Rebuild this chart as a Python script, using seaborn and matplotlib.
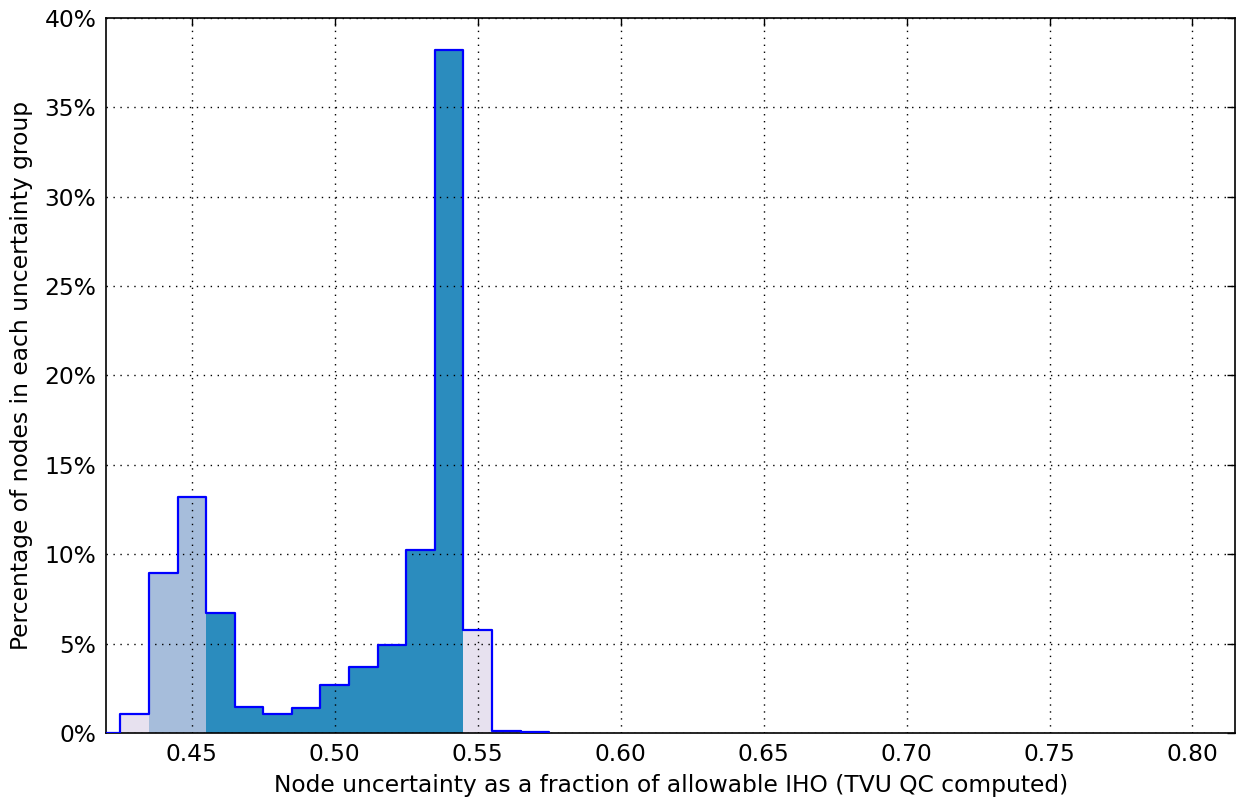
import matplotlib
matplotlib.use("Agg")
import matplotlib.pyplot as plt
import matplotlib.ticker as mticker
import seaborn as sns
import numpy as np
import pandas as pd

# histogram bin centres (fraction of allowable IHO) and percentage of nodes per bin
bin_centers = [0.42, 0.43, 0.44, 0.45, 0.46, 0.47, 0.48, 0.49, 0.50, 0.51,
               0.52, 0.53, 0.54, 0.55, 0.56, 0.57]
pct_nodes = [0.0, 1.05, 8.95, 13.2, 6.7, 1.45, 1.08, 1.4, 2.7, 3.7,
             4.9, 10.25, 38.2, 5.75, 0.13, 0.05]
# which uncertainty group each bin falls in (controls the fill colour)
groups = ['outer', 'outer', 'mid', 'mid', 'core', 'core', 'core', 'core', 'core', 'core',
          'core', 'core', 'core', 'outer', 'outer', 'outer']
group_colors = {'outer': '#e7e1ef', 'mid': '#a6bddb', 'core': '#2b8cbe'}

bin_edges = [round(0.415 + 0.01 * i, 3) for i in range(17)]
x_ticks = [0.45, 0.50, 0.55, 0.60, 0.65, 0.70, 0.75, 0.80]
y_ticks = [0, 5, 10, 15, 20, 25, 30, 35, 40]

df = pd.DataFrame({'center': bin_centers, 'pct': pct_nodes, 'group': groups})

sns.set_theme(style='white')
plt.rcParams['font.family'] = ['DejaVu Sans']
plt.rcParams.update({
    'xtick.direction': 'in', 'ytick.direction': 'in',
    'xtick.top': True, 'ytick.right': True,
    'xtick.major.size': 6, 'ytick.major.size': 6,
    'axes.edgecolor': 'black', 'axes.linewidth': 1.2,
    'axes.axisbelow': False,
    'text.color': 'black', 'axes.labelcolor': 'black',
})

fig, ax = plt.subplots(figsize=(12.36, 8.0), dpi=100)
fig.subplots_adjust(left=0.0858, right=0.9995, top=0.9775, bottom=0.0838)

# coloured fills per uncertainty group
sns.histplot(data=df, x='center', weights='pct', hue='group', bins=bin_edges,
             palette=group_colors, element='bars', linewidth=0, alpha=1.0,
             multiple='layer', legend=False, ax=ax)
# blue step outline over all bins
sns.histplot(data=df, x='center', weights='pct', bins=bin_edges,
             element='step', fill=False, color='#0000ff', linewidth=1.6, ax=ax)
for ln in ax.lines:
    ln.set_zorder(3)

ax.set_xlim(0.42, 0.815)
ax.set_ylim(0, 40)
ax.set_xticks(x_ticks)
ax.set_yticks(y_ticks)
ax.xaxis.set_major_formatter(mticker.FormatStrFormatter('%.2f'))
ax.yaxis.set_major_formatter(mticker.FuncFormatter(lambda v, p: f'{v:.0f}%'))
ax.tick_params(labelsize=16.8, colors='black', width=1, pad=7)
ax.grid(True, linestyle=(0, (1, 4)), color='black', linewidth=1.0)

ax.set_xlabel('Node uncertainty as a fraction of allowable IHO (TVU QC computed)',
              fontsize=16.8, labelpad=6)
ax.set_ylabel('Percentage of nodes in each uncertainty group', fontsize=16.8, labelpad=8)
for s in ax.spines.values():
    s.set_visible(True)
    s.set_zorder(2.5)

fig.savefig('out.png', dpi=100, facecolor='white')
